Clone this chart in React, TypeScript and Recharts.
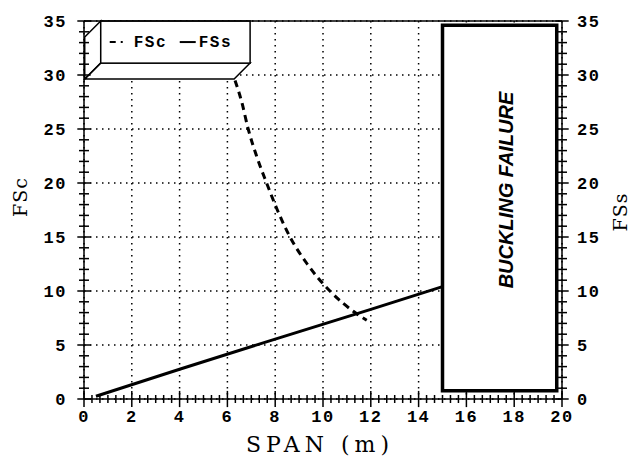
import React from 'react';
import {
  LineChart,
  Line,
  XAxis,
  YAxis,
  CartesianGrid,
  ReferenceArea,
  ReferenceLine,
} from 'recharts';

// FSc (dashed)
const FSC_SPAN = [6.32, 6.6, 6.87, 7.22, 7.64, 8.09, 8.62, 9.34, 10.29, 11.41, 11.83];
const FSC_VALUES = [29.5, 27.5, 25.0, 22.5, 20.0, 17.5, 15.0, 12.5, 10.0, 7.9, 7.3];

// FSs (solid)
const FSS_SPAN = [0.5, 4, 8, 12, 15];
const FSS_VALUES = [0.25, 2.75, 5.55, 8.3, 10.4];

const X_TICKS = [0, 2, 4, 6, 8, 10, 12, 14, 16, 18, 20];
const Y_TICKS = [0, 5, 10, 15, 20, 25, 30, 35];

// minor ticks: x every 1/3, y every 1
const X_MINOR = Array.from({ length: 61 }, (_, i) => i / 3);
const Y_MINOR = Array.from({ length: 36 }, (_, i) => i);

const BUCKLING = { x1: 15, x2: 19.78, y1: 0.77, y2: 34.6 };
const LEGEND = { x1: 0.7, x2: 6.95, y1: 31.1, y2: 35 };

const fscData = FSC_SPAN.map((span, i) => ({ span, fsc: FSC_VALUES[i] }));
const fssData = FSS_SPAN.map((span, i) => ({ span, fss: FSS_VALUES[i] }));

const MONO = '"Liberation Mono", "DejaVu Sans Mono", monospace';
const SERIF = '"DejaVu Serif", "Liberation Serif", serif';
const tickStyle = { fontFamily: MONO, fontWeight: 700, fontSize: 17, fill: '#000', letterSpacing: 1.5 };
const legendStyle = { fontFamily: MONO, fontWeight: 700, fontSize: 16, fill: '#000' };

function LegendBox(props: any) {
  const { x, y, width: w, height: h } = props;
  const d = 16;
  const my = y + h / 2;
  return (
    <g>
      <polygon
        points={`${x},${y} ${x - d},${y + d} ${x - d},${y + h + d} ${x},${y + h}`}
        fill="#fff"
        stroke="#000"
        strokeWidth={1.5}
      />
      <polygon
        points={`${x},${y + h} ${x + w},${y + h} ${x + w - d},${y + h + d} ${x - d},${y + h + d}`}
        fill="#fff"
        stroke="#000"
        strokeWidth={1.5}
      />
      <rect x={x} y={y} width={w} height={h} fill="#fff" stroke="#000" strokeWidth={1.5} />
      <line x1={x + 9} x2={x + 27} y1={my} y2={my} stroke="#000" strokeWidth={2} strokeDasharray="6 5 2 20" />
      <text x={x + 33} y={my + 5} style={legendStyle} letterSpacing={1.5}>FSc</text>
      <line x1={x + 79} x2={x + 95} y1={my} y2={my} stroke="#000" strokeWidth={2} />
      <text x={x + 98} y={my + 5} style={legendStyle} letterSpacing={1.5}>FSs</text>
    </g>
  );
}

function BucklingLabel(props: any) {
  const vb = props.viewBox || {};
  const cx = vb.x + vb.width / 2 + 6;
  const cy = vb.y + vb.height / 2 - 18;
  return (
    <text
      x={cx}
      y={cy}
      transform={`rotate(-90 ${cx} ${cy})`}
      textAnchor="middle"
      dominantBaseline="central"
      fontFamily='"Liberation Sans", Arial, sans-serif'
      fontWeight={700}
      fontStyle="italic"
      fontSize={20}
      fill="#000"
    >
      BUCKLING FAILURE
    </text>
  );
}

const titleBase: React.CSSProperties = {
  position: 'absolute',
  fontFamily: SERIF,
  color: '#000',
  whiteSpace: 'nowrap',
  lineHeight: 1,
};

export default function App() {
  return (
    <div style={{ position: 'absolute', left: 0, top: 0, width: 632, height: 465, background: '#fff' }}>
      <LineChart width={632} height={465} margin={{ top: 21, right: 20, bottom: 0, left: 34 }}>
        <CartesianGrid
          yAxisId="left"
          stroke="#000"
          strokeWidth={1.5}
          strokeDasharray="1.5 4.5"
        />
        <XAxis
          dataKey="span"
          type="number"
          domain={[0, 20]}
          ticks={X_TICKS}
          interval={0}
          allowDataOverflow
          height={66}
          tickLine={false}
          tickSize={0}
          tickMargin={11}
          axisLine={{ stroke: '#000', strokeWidth: 1.5 }}
          tick={tickStyle}
        />
        <YAxis
          yAxisId="left"
          type="number"
          domain={[0, 35]}
          ticks={Y_TICKS}
          interval={0}
          allowDataOverflow
          width={50}
          tickLine={false}
          tickSize={0}
          tickMargin={17}
          axisLine={{ stroke: '#000', strokeWidth: 1.5 }}
          tick={tickStyle}
        />
        <YAxis
          yAxisId="right"
          orientation="right"
          type="number"
          domain={[0, 35]}
          ticks={Y_TICKS}
          interval={0}
          allowDataOverflow
          width={50}
          tickLine={false}
          tickSize={0}
          tickMargin={15}
          axisLine={{ stroke: '#000', strokeWidth: 1.5 }}
          tick={tickStyle}
        />
        <ReferenceLine yAxisId="right" y={35} stroke="#000" strokeWidth={1.5} ifOverflow="visible" />
        <ReferenceArea
          yAxisId="left"
          x1={LEGEND.x1}
          x2={LEGEND.x2}
          y1={LEGEND.y1}
          y2={LEGEND.y2}
          ifOverflow="visible"
          shape={<LegendBox />}
        />
        <ReferenceArea
          yAxisId="left"
          x1={BUCKLING.x1}
          x2={BUCKLING.x2}
          y1={BUCKLING.y1}
          y2={BUCKLING.y2}
          fill="#fff"
          fillOpacity={1}
          stroke="#000"
          strokeWidth={3.5}
          ifOverflow="visible"
          label={<BucklingLabel />}
        />
        {X_MINOR.map((v, i) => {
          const major = i % 6 === 0;
          const len = major ? 0.75 : 0.37;
          return (
            <ReferenceLine
              key={'xt' + i}
              yAxisId="left"
              segment={[{ x: v, y: -len }, { x: v, y: len }]}
              stroke="#000"
              strokeWidth={1.5}
              ifOverflow="visible"
            />
          );
        })}
        {Y_MINOR.map((v, i) => {
          const len = v % 5 === 0 ? 0.28 : 0.21;
          return (
            <React.Fragment key={'yt' + i}>
              <ReferenceLine
                yAxisId="left"
                segment={[{ x: -len, y: v }, { x: len, y: v }]}
                stroke="#000"
                strokeWidth={1.5}
                ifOverflow="visible"
              />
              <ReferenceLine
                yAxisId="right"
                segment={[{ x: 20 - len, y: v }, { x: 20 + len, y: v }]}
                stroke="#000"
                strokeWidth={1.5}
                ifOverflow="visible"
              />
            </React.Fragment>
          );
        })}
        <Line
          yAxisId="left"
          data={fssData}
          dataKey="fss"
          type="linear"
          stroke="#000"
          strokeWidth={3}
          dot={false}
          isAnimationActive={false}
        />
        <Line
          yAxisId="left"
          data={fscData}
          dataKey="fsc"
          type="monotone"
          stroke="#000"
          strokeWidth={3}
          strokeDasharray="7 5"
          dot={false}
          isAnimationActive={false}
        />
      </LineChart>
      <div style={{ ...titleBase, left: 20, top: 197, fontSize: 19, letterSpacing: 1, transform: 'translate(-50%, -50%) rotate(-90deg)' }}>
        FSc
      </div>
      <div style={{ ...titleBase, left: 620, top: 212, fontSize: 19, letterSpacing: 1, transform: 'translate(-50%, -50%) rotate(-90deg)' }}>
        FSs
      </div>
      <div style={{ ...titleBase, left: 320, top: 445, fontSize: 22, letterSpacing: 5, transform: 'translate(-50%, -50%)' }}>
        SPAN (m)
      </div>
    </div>
  );
}
